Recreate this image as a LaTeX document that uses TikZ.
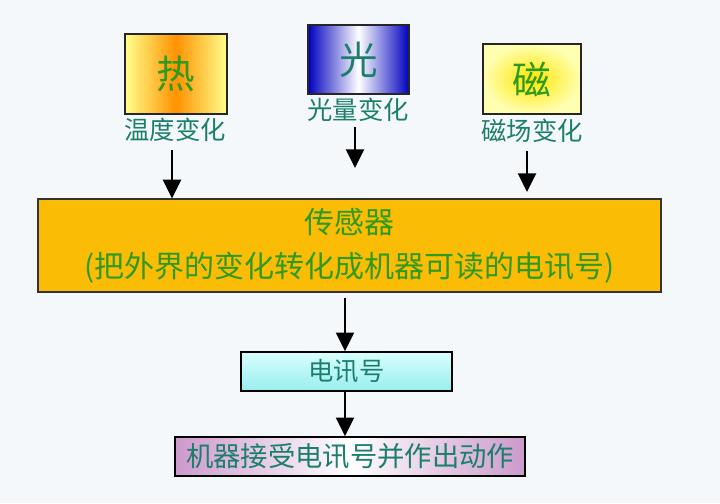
\documentclass[tikz,border=0pt]{standalone}
\usepackage{fontspec}
\newfontfamily\cjk{Noto Sans CJK SC}
\usetikzlibrary{arrows.meta}
\definecolor{bgblue}{HTML}{F5F8FB}
\definecolor{leafgreen}{HTML}{2E9A1E}
\definecolor{tealtext}{HTML}{1B7F6C}
\definecolor{sensorgold}{HTML}{FBBC05}
\begin{document}
\begin{tikzpicture}[x=0.75pt,y=-0.75pt,
  src/.style={draw=black!85,line width=0.9pt,inner sep=0pt,font=\cjk\fontsize{29}{29}\selectfont},
  tag/.style={inner sep=0pt,text=tealtext,font=\cjk\fontsize{19}{19}\selectfont},
  flow/.style={line width=1.8pt,-{Triangle[width=13.5pt,length=14pt]}}]
\fill[bgblue] (0,0) rectangle (720,503);
\node (A) at (176,74) [src,minimum width=76.5pt,minimum height=60pt,left color=yellow!45,right color=yellow!45,middle color=orange!85!yellow,text=leafgreen] {热};
\node (B) at (358.5,59.5) [src,minimum width=75.75pt,minimum height=51.75pt,left color=blue!75!black,right color=blue!75!black,middle color=white,text=tealtext] {光};
\node (C) at (532,79) [src,minimum width=73.5pt,minimum height=52.5pt,shading=radial,inner color=yellow!80!orange,outer color=yellow!30,text=leafgreen] {磁};
\node (A1) at (175,130) [tag] {温度变化};
\node (B1) at (358,110) [tag] {光量变化};
\node (C1) at (532,131) [tag] {磁场变化};
\node (M) at (349.5,245.5) [draw=black!80,line width=0.9pt,fill=sensorgold,minimum width=467.25pt,minimum height=69.75pt,align=center,text=leafgreen,font=\cjk\fontsize{22.5}{33}\selectfont] {传感器\\(把外界的变化转化成机器可读的电讯号)};
\node (S) at (346.5,371.5) [draw=black,line width=1.2pt,top color=cyan!15,bottom color=teal!35!cyan!40,minimum width=158.25pt,minimum height=29.25pt,text=tealtext,font=\cjk\fontsize{19}{19}\selectfont] {电讯号};
\node (R) at (350,456.5) [draw=black,line width=1.2pt,left color=violet!40,right color=violet!40,middle color=white,minimum width=262.5pt,minimum height=29.25pt,text=tealtext,font=\cjk\fontsize{20.5}{20.5}\selectfont] {机器接受电讯号并作出动作};
\coordinate (Bend) at (355,168);
\draw[flow] ([yshift=-6pt]A1.south -| 172,0) -- (172,0 |- M.north);
\draw[flow] ([yshift=-4pt]B1.south -| Bend) -- (Bend);
\draw[flow] ([yshift=-6pt]C1.south -| 527,0) -- (527,192);
\draw[flow] (345,0 |- M.south) ++(0,5) -- (345,0 |- S.north);
\draw[flow] (345,0 |- S.south) -- (345,0 |- R.north);
\end{tikzpicture}
\end{document}
